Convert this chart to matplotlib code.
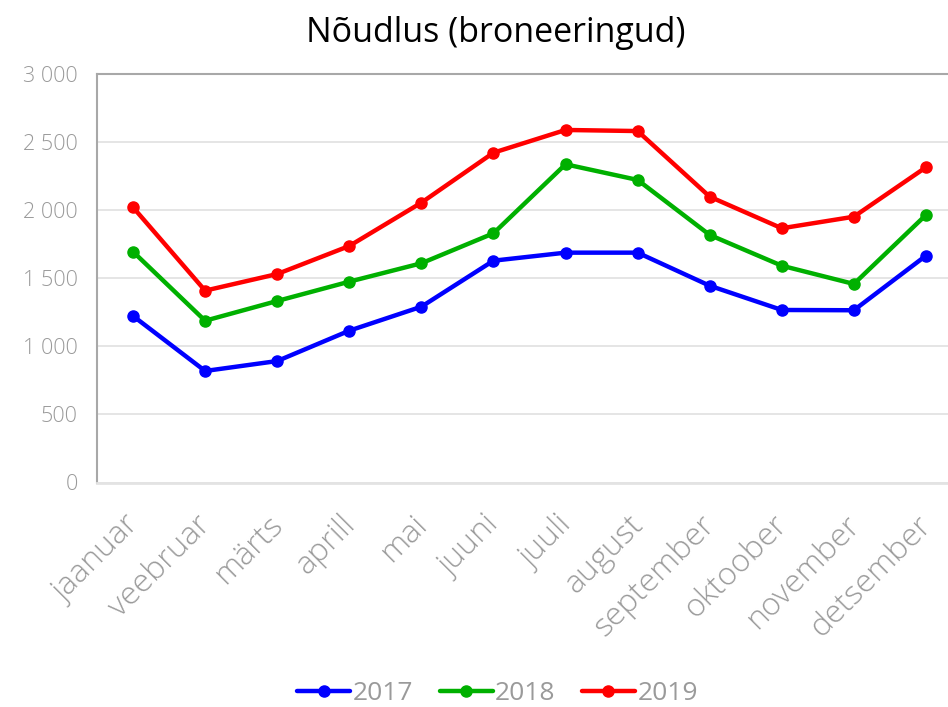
import matplotlib
matplotlib.use("Agg")
import matplotlib.pyplot as plt
import matplotlib.transforms as mtransforms
from matplotlib.ticker import FuncFormatter

plt.rcParams["font.family"] = ["Open Sans", "DejaVu Sans"]

kuud = ["jaanuar", "veebruar", "märts", "aprill", "mai", "juuni",
        "juuli", "august", "september", "oktoober", "november", "detsember"]
y2017 = [1223, 819, 892, 1115, 1291, 1629, 1688, 1688, 1445, 1267, 1265, 1666]
y2018 = [1695, 1188, 1333, 1475, 1610, 1830, 2337, 2222, 1818, 1592, 1458, 1965]
y2019 = [2021, 1409, 1531, 1737, 2055, 2422, 2589, 2581, 2099, 1867, 1952, 2315]
aastad = ["2017", "2018", "2019"]
varvid = ["#0000ff", "#00b000", "#ff0000"]

GRAY = "#9a9a9a"

fig = plt.figure(figsize=(9.48, 7.07), dpi=100)
ax = fig.add_axes([97 / 948, 1 - 482.5 / 707, 865 / 948, 408.5 / 707])

x = list(range(len(kuud)))
for vals, lab, c in zip([y2017, y2018, y2019], aastad, varvid):
    ax.plot(x, vals, color=c, lw=3.2, marker="o", ms=8, label=lab,
            solid_capstyle="round", zorder=3)

ax.set_xlim(-0.5, len(kuud) - 0.5)
ax.set_ylim(0, 3000)
ax.set_yticks(range(0, 3001, 500))
ax.yaxis.set_major_formatter(FuncFormatter(lambda v, p: f"{int(v):,}".replace(",", " ")))
ax.grid(axis="y", color="#e3e3e3", lw=1.3, zorder=0)

ax.spines["right"].set_visible(False)
for s in ["left", "top"]:
    ax.spines[s].set_color("#a8a8a8")
    ax.spines[s].set_linewidth(1.5)
ax.spines["bottom"].set_color("#e3e3e3")
ax.spines["bottom"].set_linewidth(2)

ax.tick_params(axis="y", length=0, pad=14, labelsize=15.5, labelcolor=GRAY)
ax.tick_params(axis="x", length=0, pad=12, labelsize=23, labelcolor=GRAY)
ax.set_xticks(x)
ax.set_xticklabels(kuud, rotation=45, ha="right", rotation_mode="anchor",
                   fontweight="light")
# nihuta silte veidi vasakule-alla nagu originaalis
nihe = mtransforms.ScaledTranslation(-10 / 100, -10 / 100, fig.dpi_scale_trans)
for t in ax.get_xticklabels():
    t.set_transform(t.get_transform() + nihe)
for t in ax.get_yticklabels():
    t.set_fontweight("light")

fig.suptitle("Nõudlus (broneeringud)", x=0.523, y=0.978, fontsize=24.5, color="black")

leg = fig.legend(loc="lower center", bbox_to_anchor=(0.525, -0.032), ncol=3, frameon=False,
                 fontsize=19, labelcolor=GRAY, handlelength=2.0, handletextpad=0.1,
                 columnspacing=1.0)

fig.savefig("out.png", dpi=100)
